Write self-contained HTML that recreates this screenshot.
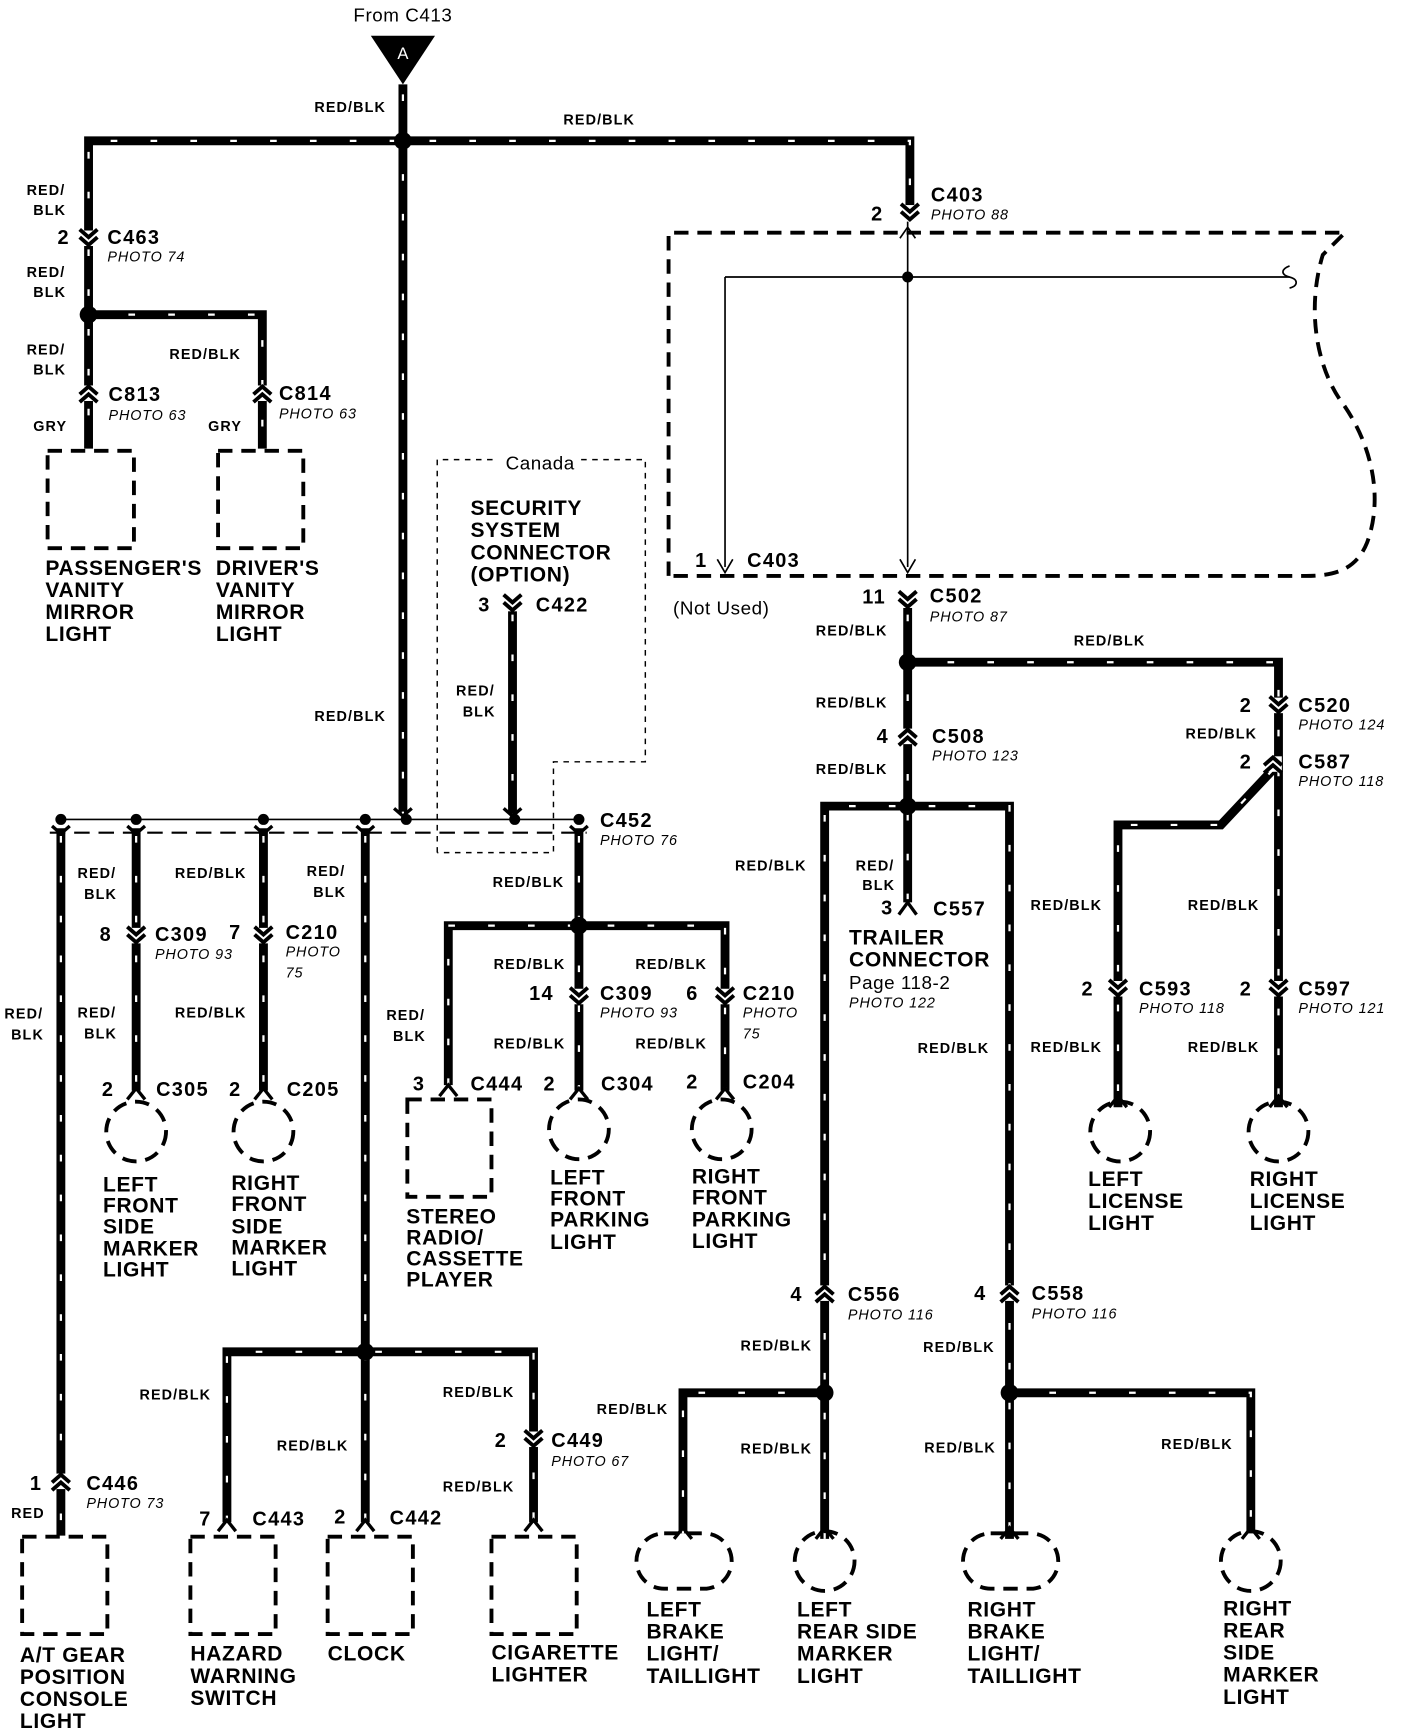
<!DOCTYPE html>
<html><head><meta charset="utf-8"><style>
html,body{margin:0;padding:0;background:#fff}
svg{display:block}
text{font-family:"Liberation Sans",Arial,sans-serif;fill:#000}
.w{stroke:#000;stroke-width:8;fill:none;stroke-linejoin:miter}
.t{stroke:#fff;stroke-width:2;fill:none;stroke-dasharray:6 30}
.th{stroke:#000;stroke-width:1.5;fill:none}
.db{stroke:#000;stroke-width:3.5;fill:none;stroke-dasharray:13 8}
.dt{stroke:#000;stroke-width:1.3;fill:none;stroke-dasharray:5 5}
.n{font-weight:bold;font-size:19px;letter-spacing:0.6px}
.c{font-weight:bold;font-size:18px;letter-spacing:1.2px}
.l{font-weight:bold;font-size:13px;letter-spacing:1px}
.p{font-style:italic;font-size:13px;letter-spacing:0.8px}
.r{font-size:17px;letter-spacing:0.5px}
</style></head><body>
<svg width="1408" height="1734" viewBox="0 0 1272 1566" xmlns="http://www.w3.org/2000/svg">
<defs>
<g id="cv"><rect x="-8" y="-7" width="16" height="14" fill="#fff"/><path d="M-8,-8 L0,-1 L8,-8 M-8,-1 L0,6 L8,-1" stroke="#000" stroke-width="3.5" fill="none"/></g>
<g id="cu"><rect x="-8" y="-7" width="16" height="14" fill="#fff"/><path d="M-8,8 L0,1 L8,8 M-8,1 L0,-6 L8,1" stroke="#000" stroke-width="3.5" fill="none"/></g>
<g id="cy"><path d="M-8,-6 L0,1 L8,-6" stroke="#000" stroke-width="3" fill="none"/></g>
</defs>

<text x="364" y="19" class="r" text-anchor="middle">From C413</text>
<polygon points="335,32 393,32 364,76" fill="#000"/>
<text x="364" y="53" font-size="15" style="fill:#fff" text-anchor="middle">A</text>

<g>
<path class="w" d="M364,76 V735"/>
<path class="w" d="M80,215 V127 H822 V195"/>
<path class="w" d="M80,215 V405 M80,284 H237 V405"/>
<path class="w" d="M820,545 V815 M820,598 H1155 V1000 M1150,695 L1103,745 H1010 V1000"/>
<path class="w" d="M745,1390 V728 H912 V1390 M745,1258 H617 V1385 M912,1258 H1130 V1385"/>
<path class="w" d="M55,748 V1387 M123,748 V985 M238,748 V985 M330,748 V1375 M205,1375 V1221 H482 V1375"/>
<path class="w" d="M523,748 V836 M405,980 V836 H655 V985 M523,836 V985"/>
<path class="w" d="M463,545 V735"/>
</g>
<g>
<path class="t" d="M364,85 V735"/>
<path class="t" d="M80,215 V127 H822 V195"/>
<path class="t" d="M80,225 V405 M80,284 H237 V405"/>
<path class="t" d="M820,555 V812 M820,598 H1155 V1000 M1150,695 L1103,745 H1010 V1000"/>
<path class="t" d="M745,1390 V728 H912 V1390 M745,1258 H617 V1385 M912,1258 H1130 V1385"/>
<path class="t" d="M55,755 V1387 M123,755 V985 M238,755 V985 M330,755 V1375 M205,1375 V1221 H482 V1375"/>
<path class="t" d="M523,755 V836 M405,980 V836 H655 V985 M523,836 V985"/>
<path class="t" d="M463,555 V735"/>
</g>
<g fill="#000">
<circle cx="364" cy="127" r="8"/><circle cx="80" cy="284" r="8"/>
<circle cx="820" cy="598" r="8"/><circle cx="820" cy="728" r="8"/>
<circle cx="745" cy="1258" r="8"/><circle cx="912" cy="1258" r="8"/>
<circle cx="330" cy="1221" r="8"/><circle cx="523" cy="836" r="8"/>
<circle cx="820" cy="250" r="5"/>
<circle cx="55" cy="740" r="5"/><circle cx="123" cy="740" r="5"/><circle cx="238" cy="740" r="5"/><circle cx="330" cy="740" r="5"/><circle cx="367" cy="740" r="5"/><circle cx="465" cy="740" r="5"/><circle cx="523" cy="740" r="5"/>
</g>
<path class="th" d="M55,740 H523"/>
<path d="M45,752 H530" stroke="#000" stroke-width="2" stroke-dasharray="14 8"/>
<use href="#cy" x="55" y="752"/><use href="#cy" x="123" y="752"/><use href="#cy" x="238" y="752"/><use href="#cy" x="330" y="752"/><use href="#cy" x="523" y="752"/>
<use href="#cy" x="364" y="736"/><use href="#cy" x="463" y="736"/>

<path class="db" d="M604,520 V210 H1215 L1195,230 C1180,280 1190,330 1210,360 C1240,400 1250,450 1235,490 C1225,515 1205,520 1180,520 H604"/>
<path class="th" d="M820,200 V512 M655,250 H1165 M655,250 V512"/>
<path d="M1165,240 c-8,3 -8,8 0,10 c8,2 8,8 0,10" class="th"/>
<path d="M648,505 L655,517 L662,505 M813,505 L820,517 L827,505" class="th" stroke-width="2"/>
<path d="M813,215 L820,205 L827,215" class="th" stroke-width="2"/>

<use href="#cv" x="80" y="215"/><use href="#cu" x="80" y="355"/><use href="#cu" x="237" y="355"/>
<use href="#cv" x="822" y="192"/>
<use href="#cv" x="820" y="542"/><use href="#cu" x="820" y="665"/>
<use href="#cv" x="1155" y="637"/><use href="#cu" x="1150" y="690"/>
<use href="#cv" x="1010" y="893"/><use href="#cv" x="1155" y="893"/>
<use href="#cu" x="745" y="1168"/><use href="#cu" x="912" y="1168"/>
<use href="#cv" x="123" y="845"/><use href="#cv" x="238" y="845"/>
<use href="#cv" x="523" y="900"/><use href="#cv" x="655" y="900"/>
<use href="#cv" x="482" y="1300"/><use href="#cu" x="55" y="1338"/>
<use href="#cv" x="463" y="545"/>
<path d="M812,826 L820,815 L828,826 M397,990 L405,980 L413,990 M115,993 L123,983 L131,993 M230,993 L238,983 L246,993 M515,993 L523,983 L531,993 M647,993 L655,983 L663,993 M197,1383 L205,1373 L213,1383 M322,1383 L330,1373 L338,1383 M474,1383 L482,1373 L490,1383 M1002,1000 L1010,990 L1018,1000 M1147,1000 L1155,990 L1163,1000 M609,1390 L617,1380 L625,1390 M737,1390 L745,1380 L753,1390 M904,1390 L912,1380 L920,1390 M1122,1390 L1130,1380 L1138,1390" stroke="#000" stroke-width="3" fill="none"/>

<g class="db" stroke-width="3.5">
<rect x="43" y="407" width="78" height="88"/><rect x="197" y="407" width="77" height="88"/>
<rect x="368" y="993" width="76" height="88"/>
<rect x="20" y="1388" width="77" height="88"/><rect x="172" y="1388" width="77" height="88"/><rect x="296" y="1388" width="77" height="88"/><rect x="444" y="1388" width="77" height="88"/>
<circle cx="123" cy="1022" r="27"/><circle cx="238" cy="1022" r="27"/><circle cx="523" cy="1020" r="27"/><circle cx="652" cy="1020" r="27"/>
<circle cx="1012" cy="1022" r="27"/><circle cx="1155" cy="1022" r="27"/>
<circle cx="745" cy="1410" r="27"/><circle cx="1130" cy="1410" r="27"/>
<rect x="575" y="1385" width="86" height="50" rx="25"/><rect x="870" y="1385" width="86" height="50" rx="25"/>
</g>
<path class="dt" d="M395,770 V415 H450 M525,415 H583 V688 H500 V770 H395"/>
<text x="488" y="424" class="r" text-anchor="middle">Canada</text>

<g class="l">
<text x="284" y="101">RED/BLK</text><text x="509" y="112">RED/BLK</text>
<text x="24" y="176">RED/</text><text x="30" y="194">BLK</text>
<text x="24" y="250">RED/</text><text x="30" y="268">BLK</text>
<text x="24" y="320">RED/</text><text x="30" y="338">BLK</text>
<text x="153" y="324">RED/BLK</text>
<text x="30" y="389">GRY</text><text x="188" y="389">GRY</text>
<text x="284" y="651">RED/BLK</text>
<text x="412" y="628">RED/</text><text x="418" y="647">BLK</text>
<text x="70" y="793">RED/</text><text x="76" y="812">BLK</text>
<text x="158" y="793">RED/BLK</text>
<text x="277" y="791">RED/</text><text x="283" y="810">BLK</text>
<text x="4" y="920">RED/</text><text x="10" y="939">BLK</text>
<text x="70" y="919">RED/</text><text x="76" y="938">BLK</text>
<text x="158" y="919">RED/BLK</text>
<text x="445" y="801">RED/BLK</text>
<text x="349" y="921">RED/</text><text x="355" y="940">BLK</text>
<text x="446" y="875">RED/BLK</text><text x="574" y="875">RED/BLK</text>
<text x="446" y="947">RED/BLK</text><text x="574" y="947">RED/BLK</text>
<text x="126" y="1264">RED/BLK</text><text x="400" y="1262">RED/BLK</text>
<text x="250" y="1310">RED/BLK</text><text x="400" y="1347">RED/BLK</text>
<text x="10" y="1371">RED</text>
<text x="737" y="574">RED/BLK</text><text x="970" y="583">RED/BLK</text>
<text x="737" y="639">RED/BLK</text><text x="737" y="699">RED/BLK</text>
<text x="1071" y="667">RED/BLK</text>
<text x="664" y="786">RED/BLK</text>
<text x="773" y="786">RED/</text><text x="779" y="804">BLK</text>
<text x="931" y="822">RED/BLK</text><text x="1073" y="822">RED/BLK</text>
<text x="829" y="951">RED/BLK</text>
<text x="931" y="950">RED/BLK</text><text x="1073" y="950">RED/BLK</text>
<text x="669" y="1220">RED/BLK</text><text x="834" y="1221">RED/BLK</text>
<text x="539" y="1277">RED/BLK</text><text x="669" y="1313">RED/BLK</text>
<text x="835" y="1312">RED/BLK</text><text x="1049" y="1309">RED/BLK</text>
</g>

<g class="c">
<text x="52" y="220">2</text><text x="97" y="220">C463</text>
<text x="98" y="362">C813</text><text x="252" y="361">C814</text>
<text x="787" y="199">2</text><text x="841" y="182">C403</text>
<text x="628" y="512">1</text><text x="675" y="512">C403</text>
<text x="779" y="545">11</text><text x="840" y="544">C502</text>
<text x="792" y="671">4</text><text x="842" y="671">C508</text>
<text x="1120" y="643">2</text><text x="1173" y="643">C520</text>
<text x="1120" y="694">2</text><text x="1173" y="694">C587</text>
<text x="796" y="826">3</text><text x="843" y="827">C557</text>
<text x="432" y="552">3</text><text x="484" y="552">C422</text>
<text x="542" y="747">C452</text>
<text x="90" y="850">8</text><text x="140" y="850">C309</text>
<text x="207" y="848">7</text><text x="258" y="848">C210</text>
<text x="478" y="903">14</text><text x="542" y="903">C309</text>
<text x="620" y="903">6</text><text x="671" y="903">C210</text>
<text x="92" y="990">2</text><text x="141" y="990">C305</text>
<text x="207" y="990">2</text><text x="259" y="990">C205</text>
<text x="373" y="985">3</text><text x="425" y="985">C444</text>
<text x="491" y="985">2</text><text x="543" y="985">C304</text>
<text x="620" y="983">2</text><text x="671" y="983">C204</text>
<text x="977" y="899">2</text><text x="1029" y="899">C593</text>
<text x="1120" y="899">2</text><text x="1173" y="899">C597</text>
<text x="714" y="1175">4</text><text x="766" y="1175">C556</text>
<text x="880" y="1174">4</text><text x="932" y="1174">C558</text>
<text x="447" y="1307">2</text><text x="498" y="1307">C449</text>
<text x="27" y="1346">1</text><text x="78" y="1346">C446</text>
<text x="180" y="1378">7</text><text x="228" y="1378">C443</text>
<text x="302" y="1376">2</text><text x="352" y="1377">C442</text>
</g>
<g class="p">
<text x="97" y="236">PHOTO 74</text><text x="98" y="379">PHOTO 63</text><text x="252" y="378">PHOTO 63</text>
<text x="841" y="198">PHOTO 88</text><text x="840" y="561">PHOTO 87</text><text x="842" y="687">PHOTO 123</text>
<text x="1173" y="659">PHOTO 124</text><text x="1173" y="710">PHOTO 118</text>
<text x="767" y="910">PHOTO 122</text>
<text x="542" y="763">PHOTO 76</text>
<text x="140" y="866">PHOTO 93</text><text x="258" y="864">PHOTO</text><text x="258" y="883">75</text>
<text x="542" y="919">PHOTO 93</text><text x="671" y="919">PHOTO</text><text x="671" y="938">75</text>
<text x="1029" y="915">PHOTO 118</text><text x="1173" y="915">PHOTO 121</text>
<text x="766" y="1192">PHOTO 116</text><text x="932" y="1191">PHOTO 116</text>
<text x="498" y="1324">PHOTO 67</text><text x="78" y="1362">PHOTO 73</text>
</g>
<text x="608" y="555" class="r">(Not Used)</text>
<text x="767" y="893" class="r">Page 118-2</text>

<g class="n">
<text x="41" y="519">PASSENGER'S</text><text x="41" y="539">VANITY</text><text x="41" y="559">MIRROR</text><text x="41" y="579">LIGHT</text>
<text x="195" y="519">DRIVER'S</text><text x="195" y="539">VANITY</text><text x="195" y="559">MIRROR</text><text x="195" y="579">LIGHT</text>
<text x="425" y="465">SECURITY</text><text x="425" y="485">SYSTEM</text><text x="425" y="505">CONNECTOR</text><text x="425" y="525">(OPTION)</text>
<text x="767" y="853">TRAILER</text><text x="767" y="873">CONNECTOR</text>
<text x="93" y="1076">LEFT</text><text x="93" y="1095">FRONT</text><text x="93" y="1114">SIDE</text><text x="93" y="1134">MARKER</text><text x="93" y="1153">LIGHT</text>
<text x="209" y="1075">RIGHT</text><text x="209" y="1094">FRONT</text><text x="209" y="1114">SIDE</text><text x="209" y="1133">MARKER</text><text x="209" y="1152">LIGHT</text>
<text x="367" y="1105">STEREO</text><text x="367" y="1124">RADIO/</text><text x="367" y="1143">CASSETTE</text><text x="367" y="1162">PLAYER</text>
<text x="497" y="1070">LEFT</text><text x="497" y="1089">FRONT</text><text x="497" y="1108">PARKING</text><text x="497" y="1128">LIGHT</text>
<text x="625" y="1069">RIGHT</text><text x="625" y="1088">FRONT</text><text x="625" y="1108">PARKING</text><text x="625" y="1127">LIGHT</text>
<text x="983" y="1071">LEFT</text><text x="983" y="1091">LICENSE</text><text x="983" y="1111">LIGHT</text>
<text x="1129" y="1071">RIGHT</text><text x="1129" y="1091">LICENSE</text><text x="1129" y="1111">LIGHT</text>
<text x="18" y="1501">A/T GEAR</text><text x="18" y="1521">POSITION</text><text x="18" y="1541">CONSOLE</text><text x="18" y="1561">LIGHT</text>
<text x="172" y="1500">HAZARD</text><text x="172" y="1520">WARNING</text><text x="172" y="1540">SWITCH</text>
<text x="296" y="1500">CLOCK</text>
<text x="444" y="1499">CIGARETTE</text><text x="444" y="1519">LIGHTER</text>
<text x="584" y="1460">LEFT</text><text x="584" y="1480">BRAKE</text><text x="584" y="1500">LIGHT/</text><text x="584" y="1520">TAILLIGHT</text>
<text x="720" y="1460">LEFT</text><text x="720" y="1480">REAR SIDE</text><text x="720" y="1500">MARKER</text><text x="720" y="1520">LIGHT</text>
<text x="874" y="1460">RIGHT</text><text x="874" y="1480">BRAKE</text><text x="874" y="1500">LIGHT/</text><text x="874" y="1520">TAILLIGHT</text>
<text x="1105" y="1459">RIGHT</text><text x="1105" y="1479">REAR</text><text x="1105" y="1499">SIDE</text><text x="1105" y="1519">MARKER</text><text x="1105" y="1539">LIGHT</text>
</g>
</svg>
</body></html>
